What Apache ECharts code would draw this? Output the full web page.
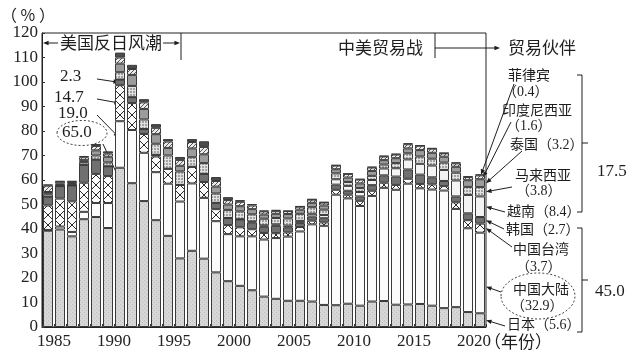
<!DOCTYPE html>
<html><head><meta charset="utf-8">
<script src="https://cdn.jsdelivr.net/npm/echarts@6/dist/echarts.min.js"></script>
<style>html,body{margin:0;padding:0;background:#fff}#c{width:638px;height:363px}</style>
</head><body><div id="c"></div>
<script>
const years = ['1985','1986','1987','1988','1989','1990','1991','1992','1993','1994','1995','1996','1997','1998','1999','2000','2001','2002','2003','2004','2005','2006','2007','2008','2009','2010','2011','2012','2013','2014','2015','2016','2017','2018','2019','2020','2021'];
const japan      = [39.3,39.8,37.0,44.0,44.9,40.4,65.0,58.7,51.4,43.6,37.2,28.0,31.1,27.9,22.3,18.7,16.8,15.0,12.4,11.5,10.7,10.7,10.4,9.0,8.9,9.5,8.7,10.4,10.6,9.1,9.2,9.4,8.7,7.7,8.1,6.1,5.6];
const china      = [0.3,1.2,1.8,3.0,5.7,10.2,19.0,21.7,19.7,19.6,21.3,23.2,27.5,24.8,20.9,19.2,20.2,22.0,23.3,24.8,26.2,28.3,31.5,32.3,45.1,43.0,40.7,43.1,46.2,46.9,49.3,47.2,47.4,48.0,40.1,34.2,32.9];
const taiwan     = [10.0,11.4,12.5,11.9,11.9,11.0,14.7,11.0,7.7,6.4,6.1,6.8,6.8,6.5,4.9,3.7,3.7,2.9,2.7,2.0,1.7,1.8,1.5,1.4,2.0,1.5,2.1,2.1,2.1,2.0,2.0,1.8,2.1,1.8,2.7,3.3,3.7];
const korea      = [3.6,5.1,6.5,7.3,5.8,4.0,2.3,2.4,2.0,0.7,0,0,0,3.3,2.6,2.9,3.2,2.8,2.5,3.0,2.1,1.6,1.7,1.7,2.1,1.6,1.8,2.3,3.0,3.4,3.8,3.8,2.9,2.1,2.4,2.8,2.7];
const vietnam    = [0,0,0,0,0,0,0,0,0,0,0,0,0,0,0,0,0.1,0.4,0.6,0.6,0.7,0.9,1.1,1.3,2.2,2.0,1.8,2.1,2.8,3.4,4.1,4.4,4.8,4.5,6.5,7.5,8.4];
const malaysia   = [1.0,0.5,0.5,1.1,1.7,1.6,3.0,4.6,3.9,4.5,5.4,5.5,3.9,4.4,3.8,3.3,3.2,2.9,2.7,2.6,2.9,2.9,2.7,2.2,2.4,1.6,1.6,1.7,1.6,2.1,2.5,3.0,2.8,3.0,3.2,3.3,3.8];
const thailand   = [0.9,0.5,0.4,0.8,2.1,2.3,3.5,4.5,4.3,3.9,3.1,2.3,3.6,3.6,2.8,2.2,2.1,2.1,1.7,1.7,1.8,1.7,1.8,1.7,1.7,1.8,1.9,2.0,1.8,2.0,2.0,2.6,2.4,2.4,2.4,2.7,3.2];
const indonesia  = [2.6,0.8,0.6,1.2,1.8,1.3,2.5,2.4,2.7,2.6,2.6,2.4,2.6,3.0,2.3,1.8,1.8,1.5,1.3,1.2,1.2,1.2,1.3,1.2,1.5,1.5,1.6,1.4,1.5,1.5,1.7,1.8,1.7,1.4,1.4,1.3,1.6];
const philippines= [0.5,0.3,0.3,0.5,0.8,0.9,2.0,1.7,1.3,1.5,1.0,1.2,1.2,2.3,1.6,1.2,0.7,0.6,0.3,0.4,0.1,0.2,0.2,0.2,0.2,0.1,0.2,0.3,0.3,0.3,0.4,0.1,0.2,0.2,0.4,0.3,0.4];
const seriesNames = ['日本','中国大陆','中国台湾','韩国','越南','马来西亚','泰国','印度尼西亚','菲律宾'];
const yMin = 0, yMax = 120, yStep = 10;

const S = [japan, china, taiwan, korea, vietnam, malaysia, thailand, indonesia, philippines];

function pat(w, h, draw) {
  const c = document.createElement('canvas'); c.width = w; c.height = h;
  const g = c.getContext('2d'); draw(g); return { image: c, repeat: 'repeat' };
}
const fills = [
  pat(4, 4, g => { g.fillStyle = '#d6d6d6'; g.fillRect(0,0,4,4); g.fillStyle = '#c0c0c0'; g.fillRect(0,0,1,1); g.fillRect(2,2,1,1); }),
  '#fbfbfb',
  pat(12, 10, g => { g.fillStyle = '#fbfbfb'; g.fillRect(0,0,12,10); g.strokeStyle = '#2a2a2a'; g.lineWidth = 1;
      [[7,17],[-5,5]].forEach(([a,b]) => { g.beginPath(); g.moveTo(a,0); g.lineTo(b,10); g.moveTo(b,0); g.lineTo(a,10); g.stroke(); }); }),
  '#707070',
  '#f3f3f3',
  pat(3, 3, g => { g.fillStyle = '#a2a2a2'; g.fillRect(0,0,3,3); g.fillStyle = '#e2e2e2'; g.fillRect(0,0,3,1); g.fillRect(0,0,1,3); }),
  '#9c9c9c',
  pat(4, 4, g => { g.fillStyle = '#ececec'; g.fillRect(0,0,4,4); g.strokeStyle = '#555'; g.lineWidth = 1; g.beginPath(); g.moveTo(0,4); g.lineTo(4,0); g.stroke(); }),
  '#4c4c4c'
];

const chart = echarts.init(document.getElementById('c'), null, { renderer: 'canvas' });
const SERIF = 'Liberation Serif';
const MIX = '"Liberation Serif", "Noto Sans CJK SC"';
const CJK = '"Noto Sans CJK SC"';

chart.setOption({
  animation: false,
  grid: { left: 42, right: 152, top: 33, bottom: 36, show: true, borderColor: '#222', borderWidth: 1 },
  xAxis: {
    type: 'category', data: years, boundaryGap: true,
    axisLine: { lineStyle: { color: '#222', width: 1 } },
    axisTick: { show: true, inside: true, length: 3, interval: 0, lineStyle: { color: '#333' } },
    axisLabel: { interval: (i, v) => (+v) % 5 === 0, fontFamily: SERIF, fontSize: 17, color: '#222', margin: 6, padding: [0, 0, 0, 12] }
  },
  yAxis: {
    type: 'value', min: yMin, max: yMax, interval: yStep,
    axisLine: { show: true, lineStyle: { color: '#222', width: 1 } },
    axisTick: { show: true, inside: true, length: 3, lineStyle: { color: '#333' } },
    splitLine: { show: false },
    axisLabel: { fontFamily: SERIF, fontSize: 17, color: '#222', margin: 4 }
  },
  series: S.map((d, k) => ({
    name: seriesNames[k], type: 'bar', stack: 'all', data: d, barWidth: 10, silent: true,
    emphasis: { disabled: true },
    itemStyle: { color: fills[k], borderColor: '#3a3a3a', borderWidth: 1 }
  }))
});

function px(i, v) { return chart.convertToPixel({ xAxisIndex: 0, yAxisIndex: 0 }, [i, v]); }
function mid(i, k, f) { let b = 0; for (let j = 0; j < k; j++) b += S[j][i]; return b + S[k][i] * (f === undefined ? 0.5 : f); }
const INK = '#1e1e1e';
function txt(x, y, s, size, font, align) {
  return { type: 'text', x, y, silent: true, style: { text: s, font: size + 'px ' + font, fill: INK, align: align || 'left', textAlign: align || 'left', verticalAlign: 'middle', textVerticalAlign: 'middle' } };
}
function ln(x1, y1, x2, y2) { return { type: 'line', silent: true, shape: { x1, y1, x2, y2 }, style: { stroke: INK, lineWidth: 1 } }; }
function arrow(x1, y1, x2, y2, h) {
  h = h || 6; const a = Math.atan2(y2 - y1, x2 - x1);
  return [ln(x1, y1, x2 - Math.cos(a) * 2, y2 - Math.sin(a) * 2),
    { type: 'polygon', silent: true, shape: { points: [[x2, y2], [x2 - h * Math.cos(a - 0.38), y2 - h * Math.sin(a - 0.38)], [x2 - h * Math.cos(a + 0.38), y2 - h * Math.sin(a + 0.38)]] }, style: { fill: INK } }];
}
function poly(pts) { return { type: 'polyline', silent: true, shape: { points: pts }, style: { stroke: INK, lineWidth: 1, fill: null } }; }
function ell(cx, cy, rx, ry) { return { type: 'ellipse', silent: true, shape: { cx, cy, rx, ry }, style: { stroke: '#444', lineWidth: 1, lineDash: [2, 2], fill: null } }; }

const g = [];
// header
g.push(txt(1, 15, '（ % ）', 16, CJK));
g.push(...arrow(58, 43, 43, 43, 6));
g.push(txt(60, 43, '美国反日风潮', 17, CJK));
g.push(...arrow(163, 43, 180, 43, 6));
g.push(ln(181, 33, 181, 60));
g.push(txt(338, 48, '中美贸易战', 17, CJK));
g.push(ln(435, 33, 435, 58));
g.push(...arrow(435, 48, 500, 48, 6));
g.push(txt(508, 48, '贸易伙伴', 17, CJK));
g.push(txt(484, 342, '（年份）', 17, CJK));

// 1991 labels
const i91 = years.indexOf('1991');
const c91 = px(i91, 0)[0];
g.push(txt(60, 77, '2.3', 17, SERIF));
g.push(txt(54, 98, '14.7', 17, SERIF));
g.push(txt(58, 114, '19.0', 17, SERIF));
g.push(txt(62, 133, '65.0', 17, SERIF));
g.push(ell(82, 133, 25, 12.5));
g.push(...arrow(97, 79, c91 - 1, px(i91, mid(i91, 3))[1], 6));
g.push(...arrow(97, 99, c91, px(i91, mid(i91, 2))[1], 6));
g.push(...arrow(97, 115, c91 - 1, px(i91, mid(i91, 1, 0.65))[1], 6));
g.push(...arrow(103, 144, c91, px(i91, mid(i91, 0, 0.92))[1], 6));

// 2021 labels
const i21 = years.indexOf('2021');
const c21 = px(i21, 0)[0];
const r21 = c21 + 6;
let tot21 = 0; S.forEach(d => tot21 += d[i21]);
g.push(txt(508, 75, '菲律宾', 14, CJK));
g.push(txt(503, 92, '（0.4）', 14, MIX));
g.push(txt(502, 110, '印度尼西亚', 14, CJK));
g.push(txt(506, 126, '（1.6）', 14, MIX));
g.push(txt(510, 145, '泰国（3.2）', 14, MIX));
g.push(txt(515, 175, '马来西亚', 14, CJK));
g.push(txt(516, 191, '（3.8）', 14, MIX));
g.push(txt(507, 212, '越南（8.4）', 14, MIX));
g.push(txt(506, 230, '韩国（2.7）', 14, MIX));
g.push(txt(513, 249, '中国台湾', 14, CJK));
g.push(txt(516, 267, '（3.7）', 14, MIX));
g.push(txt(513, 289, '中国大陆', 14, CJK));
g.push(txt(511, 306, '（32.9）', 14, MIX));
g.push(txt(507, 325, '日本（5.6）', 14, MIX));
g.push(ell(538, 296, 37, 23));
g.push(...arrow(514, 84, c21 + 1, px(i21, tot21 - 0.2)[1], 6));
g.push(...arrow(511, 122, c21 + 3, px(i21, mid(i21, 7))[1], 6));
g.push(...arrow(522, 151, r21, px(i21, mid(i21, 6))[1], 6));
g.push(...arrow(512, 187, r21, px(i21, mid(i21, 5))[1], 6));
g.push(...arrow(505, 212, r21, px(i21, mid(i21, 4))[1], 6));
g.push(...arrow(504, 229, r21, px(i21, mid(i21, 3))[1], 6));
g.push(...arrow(512, 247, r21, px(i21, mid(i21, 2))[1], 6));
g.push(...arrow(501, 292, r21, px(i21, mid(i21, 1, 0.33))[1], 6));
g.push(...arrow(505, 326, r21, px(i21, mid(i21, 0))[1], 6));

// brackets
g.push(poly([[577, 75], [582, 75], [582, 212], [577, 212]]));
g.push(ln(582, 143, 588, 143));
g.push(txt(597, 172, '17.5', 17, SERIF));
g.push(poly([[577, 228], [582, 228], [582, 332], [577, 332]]));
g.push(ln(582, 280, 588, 280));
g.push(txt(595, 292, '45.0', 17, SERIF));

chart.setOption({ graphic: { elements: g } });
</script></body></html>
